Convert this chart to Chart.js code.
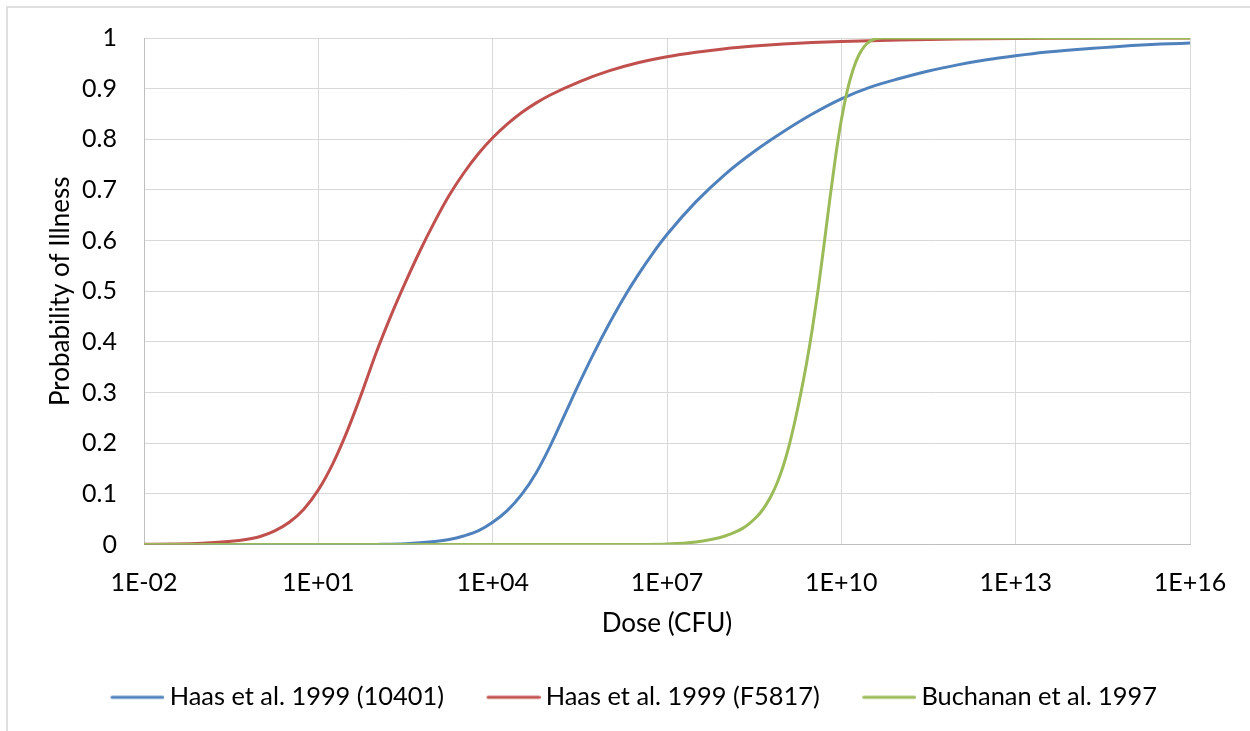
<!DOCTYPE html>
<html>
<head>
<meta charset="utf-8">
<title>Dose-response curves</title>
<script src="https://cdn.jsdelivr.net/npm/chart.js@4.4.1/dist/chart.umd.min.js"></script>
<style>
  html, body { margin: 0; padding: 0; background: #fff; overflow: hidden; }
  #wrap { position: relative; width: 1250px; height: 731px; }
  #frame { position: absolute; left: 6px; top: 6px; width: 1300px; height: 800px;
           border: 2px solid #DEDEDE; box-sizing: border-box; }
  #c { position: absolute; left: 0; top: 0; }
</style>
</head>
<body>
<div id="wrap">
  <div id="frame"></div>
  <canvas id="c" width="1250" height="731"></canvas>
</div>
<script>
// Axis ticks
const xTickExponents = [-2, 1, 4, 7, 10, 13, 16];
const xTickLabels = ['1E-02', '1E+01', '1E+04', '1E+07', '1E+10', '1E+13', '1E+16'];
const yTickLabels = ['0', '0.1', '0.2', '0.3', '0.4', '0.5', '0.6', '0.7', '0.8', '0.9', '1'];

// Haas et al. 1999 (10401): dose exponent (log10 CFU) and probability of illness
const haas10401Exp = [-2, -1, 0, 1, 1.5, 2, 2.5, 3, 3.25, 3.5, 3.75, 4, 4.25, 4.5, 4.75, 5, 5.25,
                      5.5, 5.75, 6, 6.25, 6.5, 6.75, 7, 7.5, 8, 8.5, 9, 9.5, 10, 10.5, 11, 11.5,
                      12, 12.5, 13, 13.5, 14, 14.5, 15, 15.5, 16];
const haas10401P   = [0, 0, 0.00001, 0.0001, 0.0002, 0.0004, 0.0015, 0.006, 0.010, 0.017, 0.027,
                      0.044, 0.067, 0.099, 0.142, 0.197, 0.259, 0.321, 0.380, 0.435, 0.486, 0.532,
                      0.574, 0.612, 0.677, 0.731, 0.776, 0.815, 0.850, 0.880, 0.903, 0.920, 0.935,
                      0.947, 0.957, 0.965, 0.972, 0.977, 0.981, 0.985, 0.988, 0.990];

// Haas et al. 1999 (F5817)
const haasF5817Exp = [-2, -1.5, -1, -0.5, -0.25, 0, 0.25, 0.5, 0.75, 1, 1.25, 1.5, 1.75, 2, 2.25,
                      2.5, 2.75, 3, 3.25, 3.5, 3.75, 4, 4.25, 4.5, 4.75, 5, 5.5, 6, 6.5, 7, 7.5, 8,
                      8.5, 9, 9.5, 10, 11, 12, 13, 14, 16];
const haasF5817P   = [0.0005, 0.0012, 0.0028, 0.0065, 0.010, 0.016, 0.027, 0.044, 0.070, 0.108,
                      0.160, 0.225, 0.300, 0.380, 0.452, 0.518, 0.580, 0.637, 0.689, 0.733, 0.771,
                      0.803, 0.830, 0.853, 0.872, 0.888, 0.914, 0.935, 0.951, 0.963, 0.972, 0.979,
                      0.984, 0.988, 0.991, 0.993, 0.996, 0.998, 0.999, 0.9995, 0.9999];

// Buchanan et al. 1997
const buchananExp = [-2, 0, 2, 4, 6, 6.5, 7, 7.5, 7.8, 8, 8.1, 8.2, 8.3, 8.4, 8.5, 8.6, 8.7, 8.8,
                     8.9, 9, 9.1, 9.2, 9.3, 9.4, 9.5, 9.6, 9.7, 9.8, 9.9, 10, 10.1, 10.2, 10.3,
                     10.4, 10.5, 10.6, 10.7, 12, 14, 16];
const buchananP   = [0, 0, 0, 0, 0, 0.0002, 0.001, 0.005, 0.011, 0.017, 0.021, 0.026, 0.032, 0.040,
                     0.050, 0.062, 0.078, 0.098, 0.123, 0.155, 0.195, 0.243, 0.297, 0.357, 0.425,
                     0.503, 0.590, 0.680, 0.765, 0.838, 0.895, 0.937, 0.966, 0.984, 0.994, 0.999,
                     1, 1, 1, 1];

const seriesNames = ['Haas et al. 1999 (10401)', 'Haas et al. 1999 (F5817)', 'Buchanan et al. 1997'];
const seriesColors = ['#4F81BD', '#C0504D', '#9BBB59'];

const FONT = 'Lato';
const TEXT = '#000000';
const HIDDEN = 'rgba(0,0,0,0)';
const LEGEND_BOX = 46;   // legend box width used by Chart.js for spacing

function points(exps, probs) {
  return exps.map((e, i) => ({ x: Math.pow(10, e), y: probs[i] }));
}

// Legend key: a short solid line, drawn slightly right of the box centre so
// that it sits close to its label.
function legendKey(color) {
  const c = document.createElement('canvas');
  c.width = 61;
  c.height = 6;
  const g = c.getContext('2d');
  g.strokeStyle = color;
  g.lineWidth = 3;
  g.lineCap = 'round';
  g.beginPath();
  g.moveTo(8.5, 3);
  g.lineTo(59.5, 3);
  g.stroke();
  return c;
}

function makeDataset(idx, exps, probs, order) {
  return {
    label: seriesNames[idx],
    data: points(exps, probs),
    borderColor: seriesColors[idx],
    backgroundColor: seriesColors[idx],
    borderWidth: 3,
    pointRadius: 0,
    pointHoverRadius: 0,
    pointStyle: legendKey(seriesColors[idx]),
    cubicInterpolationMode: 'monotone',
    fill: false,
    order: order
  };
}

function draw() {
  new Chart(document.getElementById('c'), {
    type: 'line',
    data: {
      datasets: [
        makeDataset(0, haas10401Exp, haas10401P, 3),
        makeDataset(1, haasF5817Exp, haasF5817P, 2),
        makeDataset(2, buchananExp, buchananP, 1)
      ]
    },
    options: {
      responsive: false,
      animation: false,
      events: [],
      layout: { padding: { left: 18, right: 0, top: 38, bottom: 11 } },
      plugins: {
        tooltip: { enabled: false },
        legend: {
          position: 'bottom',
          align: 'center',
          labels: {
            usePointStyle: true,
            pointStyleWidth: LEGEND_BOX,
            padding: 43,
            color: TEXT,
            font: { family: FONT, size: 25.4 },
            sort: (a, b) => a.datasetIndex - b.datasetIndex
          }
        }
      },
      scales: {
        x: {
          type: 'logarithmic',
          position: 'bottom',
          min: Math.pow(10, xTickExponents[0]),
          max: Math.pow(10, xTickExponents[xTickExponents.length - 1]),
          afterBuildTicks: (scale) => {
            scale.ticks = xTickExponents.map(e => ({ value: Math.pow(10, e) }));
          },
          afterFit: (scale) => { scale.height = 97; },
          grid: { color: '#D9D9D9', lineWidth: 1, drawTicks: true, tickLength: 18, tickColor: HIDDEN },
          border: { color: '#BFBFBF', width: 1 },
          ticks: {
            autoSkip: false,
            maxRotation: 0,
            padding: 5,
            color: TEXT,
            font: { family: FONT, size: 25 },
            callback: (value, index) => xTickLabels[index]
          },
          title: {
            display: true,
            text: 'Dose (CFU)',
            color: TEXT,
            font: { family: FONT, size: 26 },
            padding: { top: 0, bottom: 2 }
          }
        },
        y: {
          type: 'linear',
          position: 'left',
          min: 0,
          max: 1,
          afterFit: (scale) => { scale.width = 126; },
          grid: { color: '#D9D9D9', lineWidth: 1, drawTicks: true, tickLength: 22, tickColor: HIDDEN },
          border: { color: '#BFBFBF', width: 1 },
          ticks: {
            stepSize: 0.1,
            padding: 5,
            color: TEXT,
            font: { family: FONT, size: 25 },
            callback: (value) => yTickLabels[Math.round(value * 10)]
          },
          title: {
            display: true,
            text: 'Probability of Illness',
            color: TEXT,
            font: { family: FONT, size: 26 },
            padding: { top: 27, bottom: 0 }
          }
        },
        // empty right-hand margin beside the plot area
        yRight: {
          type: 'linear',
          position: 'right',
          display: true,
          afterFit: (scale) => { scale.width = 60; },
          grid: { display: false, drawTicks: false },
          border: { display: false },
          ticks: { display: false }
        }
      }
    }
  });
}

if (document.fonts && document.fonts.load) {
  document.fonts.load('26px ' + FONT).then(draw, draw);
} else {
  draw();
}
</script>
</body>
</html>
